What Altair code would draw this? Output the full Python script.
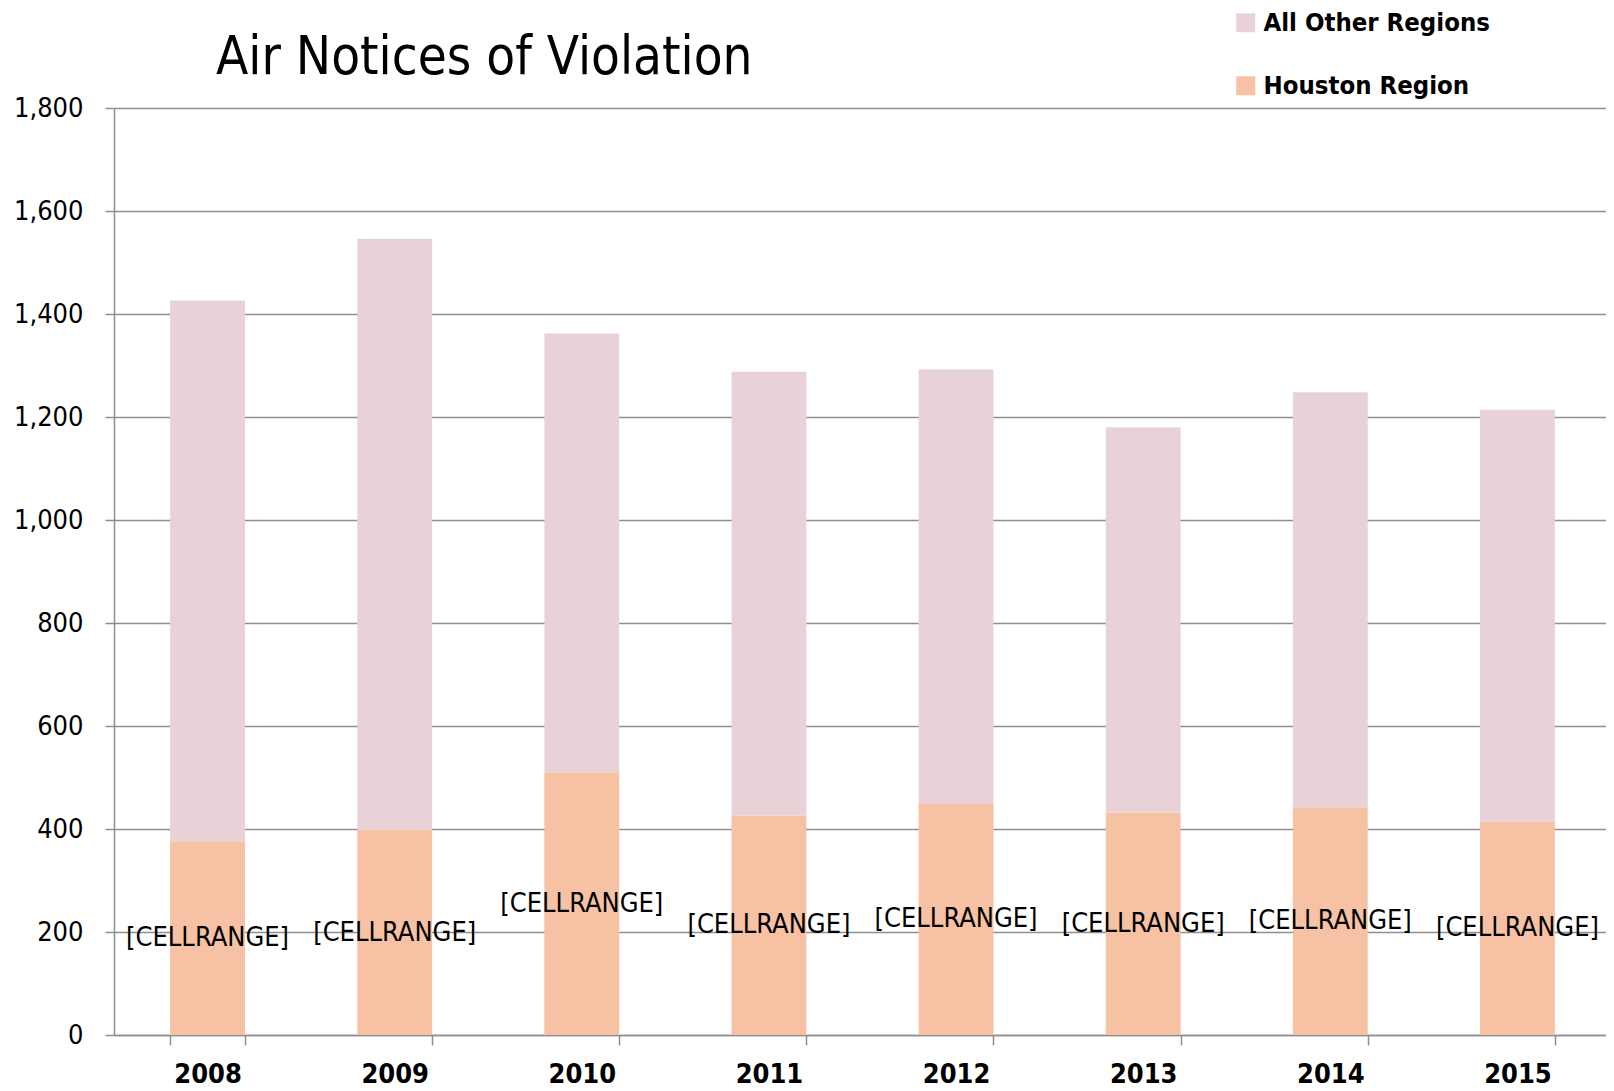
import altair as alt
import pandas as pd

years = ["2008", "2009", "2010", "2011", "2012", "2013", "2014", "2015"]
houston = [376, 398, 510, 426, 450, 432, 442, 414]
other = [1050, 1148, 852, 862, 842, 748, 806, 800]
series = ["All Other Regions", "Houston Region"]
colors = ["#E8D2D8", "#F6C2A3"]
label_text = "[CELLRANGE]"
y_ticks = [0, 200, 400, 600, 800, 1000, 1200, 1400, 1600, 1800]

FONT = "'Liberation Sans Narrow', 'DejaVu Sans Condensed', 'Noto Sans', sans-serif"

rows = []
for i, yr in enumerate(years):
    rows.append({"year": yr, "series": "Houston Region", "value": houston[i], "rank": 0})
    rows.append({"year": yr, "series": "All Other Regions", "value": other[i], "rank": 1})
df = pd.DataFrame(rows)

xscale = alt.Scale(range=[0, 1497], paddingInner=0.6, paddingOuter=0.3)

base = alt.Chart(df)

bars = base.mark_bar().encode(
    x=alt.X("year:N", title=None, scale=xscale, sort=years,
            axis=alt.Axis(labelAngle=0, tickBand="extent", tickSize=10, tickColor="#8f8f8f",
                          tickWidth=1.5, domainColor="#8f8f8f", domainWidth=1.5, grid=False,
                          labelFontSize=27, labelFont=FONT, labelFontWeight="bold",
                          labelColor="black", labelPadding=16, labelBaseline="top")),
    y=alt.Y("value:Q", title=None, stack="zero",
            scale=alt.Scale(domain=[0, 1800], nice=False),
            axis=alt.Axis(values=y_ticks, format=",.0f", grid=True, gridColor="#8f8f8f",
                          gridWidth=1.5, tickSize=9, tickColor="#8f8f8f", tickWidth=1.5,
                          domainColor="#8f8f8f", domainWidth=1.5, labelFontSize=27,
                          labelFont=FONT, labelFontWeight="normal", labelColor="black",
                          labelPadding=22, labelLimit=0)),
    color=alt.Color("series:N", scale=alt.Scale(domain=series, range=colors),
                    legend=alt.Legend(title=None, orient="none", legendX=1119, legendY=-98,
                                      symbolType="square", symbolSize=361,
                                      symbolStrokeWidth=0, symbolOpacity=1,
                                      labelFontSize=25.5, labelFont=FONT,
                                      labelFontWeight="bold", labelColor="black",
                                      labelOffset=5, rowPadding=36, labelLimit=0)),
    order=alt.Order("rank:Q", sort="ascending"),
)

labels = base.transform_filter(
    alt.datum.series == "Houston Region"
).transform_calculate(
    mid="datum.value / 2", lab=f"'{label_text}'"
).mark_text(fontSize=27, font=FONT, color="black", baseline="middle").encode(
    x=alt.X("year:N", scale=xscale, sort=years),
    y=alt.Y("mid:Q"),
    text="lab:N",
)

chart = alt.layer(bars, labels).properties(
    width=1492,
    height=927,
    title=alt.TitleParams("Air Notices of Violation", anchor="start", frame="group",
                          fontSize=52.5, font=FONT, fontWeight="normal", color="black",
                          baseline="alphabetic", dx=102, dy=116, offset=0),
    autosize=alt.AutoSizeParams(type="none"),
    padding={"left": 106, "top": 100, "right": 0, "bottom": 55},
).configure_view(stroke=None).configure(background="white")

chart.save("out.html", embed_options={"renderer": "svg", "actions": False})
